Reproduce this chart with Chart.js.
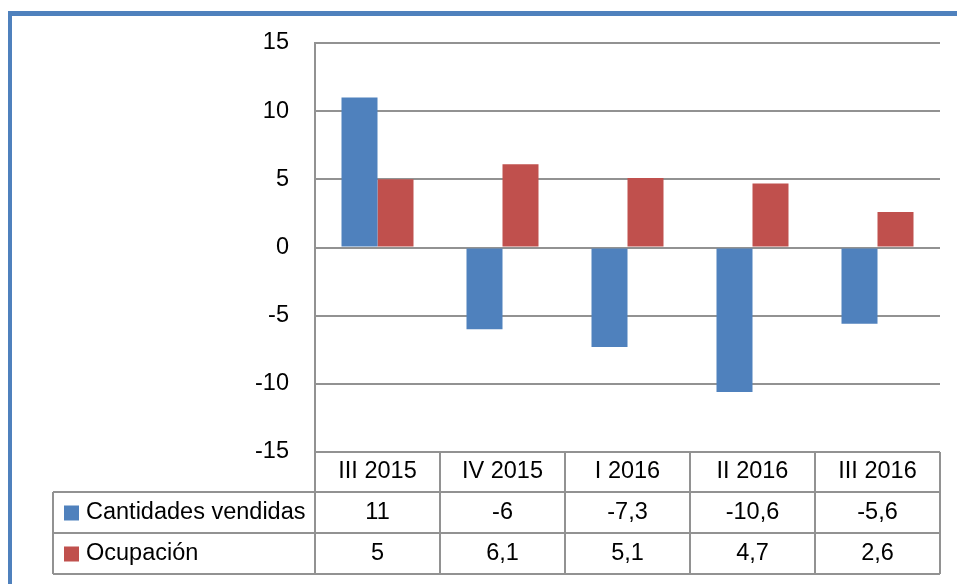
<!DOCTYPE html>
<html>
<head>
<meta charset="utf-8">
<script src="https://cdn.jsdelivr.net/npm/chart.js@4.4.0/dist/chart.umd.min.js"></script>
<style>
  html, body { margin: 0; padding: 0; background: #fff; overflow: hidden; }
  #frame {
    position: absolute; left: 8px; top: 11px; width: 1000px; height: 700px;
    border-top: 5px solid #4f81bd; border-left: 4px solid #4f81bd;
  }
  #chart { position: absolute; left: 0; top: 0; }
</style>
</head>
<body>
<div id="frame"></div>
<canvas id="chart" width="957" height="584"></canvas>
<script>
// Data
const categories = ['III 2015', 'IV 2015', 'I 2016', 'II 2016', 'III 2016'];
const cantidades = [11, -6, -7.3, -10.6, -5.6];
const ocupacion = [5, 6.1, 5.1, 4.7, 2.6];
const seriesNames = ['Cantidades vendidas', 'Ocupación'];
const yTicks = [-15, -10, -5, 0, 5, 10, 15];

const FONT = '23.5px "Liberation Sans", Arial, sans-serif';
const GRID = '#929292';

function fmt(v) {
  return String(v).replace('.', ',');
}

// data table under the plot, Excel style
const dataTable = {
  id: 'dataTable',
  afterDraw(chart) {
    const ctx = chart.ctx;
    const x = chart.scales.x;
    const area = chart.chartArea;
    const top = area.bottom;
    const legendLeft = 53;
    const rows = [top, top + 40, top + 81, top + 122];
    const step = x.getPixelForTick(1) - x.getPixelForTick(0);
    const left = x.getPixelForTick(0) - step / 2;
    const right = x.getPixelForTick(categories.length - 1) + step / 2;

    ctx.save();
    ctx.strokeStyle = GRID;
    ctx.lineWidth = 2;
    ctx.beginPath();
    // horizontal lines
    ctx.moveTo(left, rows[0]); ctx.lineTo(right, rows[0]);
    for (let i = 1; i < rows.length; i++) {
      ctx.moveTo(legendLeft, rows[i]); ctx.lineTo(right, rows[i]);
    }
    // vertical lines
    ctx.moveTo(left, area.top); ctx.lineTo(left, rows[3]);
    ctx.moveTo(legendLeft, rows[1]); ctx.lineTo(legendLeft, rows[3]);
    for (let i = 0; i < categories.length; i++) {
      const xr = x.getPixelForTick(i) + step / 2;
      ctx.moveTo(xr, rows[0]); ctx.lineTo(xr, rows[3]);
    }
    ctx.stroke();

    ctx.font = FONT;
    ctx.fillStyle = '#000';
    ctx.textAlign = 'center';
    ctx.textBaseline = 'middle';
    categories.forEach((c, i) => {
      ctx.fillText(c, x.getPixelForTick(i), (rows[0] + rows[1]) / 2);
    });
    chart.data.datasets.forEach((ds, d) => {
      const cy = (rows[d + 1] + rows[d + 2]) / 2;
      ds.data.forEach((v, i) => {
        ctx.fillText(fmt(v), x.getPixelForTick(i), cy);
      });
      // legend key
      ctx.fillStyle = ds.backgroundColor;
      ctx.fillRect(64, cy - 7, 15, 15);
      ctx.fillStyle = '#000';
      ctx.textAlign = 'left';
      ctx.fillText(ds.label, 86, cy);
      ctx.textAlign = 'center';
    });
    ctx.restore();
  }
};

new Chart(document.getElementById('chart'), {
  type: 'bar',
  data: {
    labels: categories,
    datasets: [
      { label: seriesNames[0], data: cantidades, backgroundColor: '#4f81bd' },
      { label: seriesNames[1], data: ocupacion, backgroundColor: '#c0504d' }
    ]
  },
  options: {
    responsive: false,
    animation: false,
    events: [],
    categoryPercentage: 0.576,
    barPercentage: 1,
    layout: { padding: { top: 43, right: 17, bottom: 0, left: 0 } },
    plugins: { legend: { display: false }, tooltip: { enabled: false } },
    scales: {
      x: {
        grid: { display: false },
        border: { display: false },
        ticks: { display: false },
        afterFit(scale) { scale.height = 132; }
      },
      y: {
        min: -15,
        max: 15,
        afterBuildTicks(scale) { scale.ticks = yTicks.map(v => ({ value: v })); },
        afterFit(scale) { scale.width = 315; },
        grid: { color: GRID, lineWidth: 2, drawTicks: false },
        border: { display: true, color: GRID, width: 2 },
        ticks: {
          padding: 26,
          color: '#000',
          font: { family: '"Liberation Sans", Arial, sans-serif', size: 23.5 }
        }
      }
    }
  },
  plugins: [dataTable]
});
</script>
</body>
</html>
